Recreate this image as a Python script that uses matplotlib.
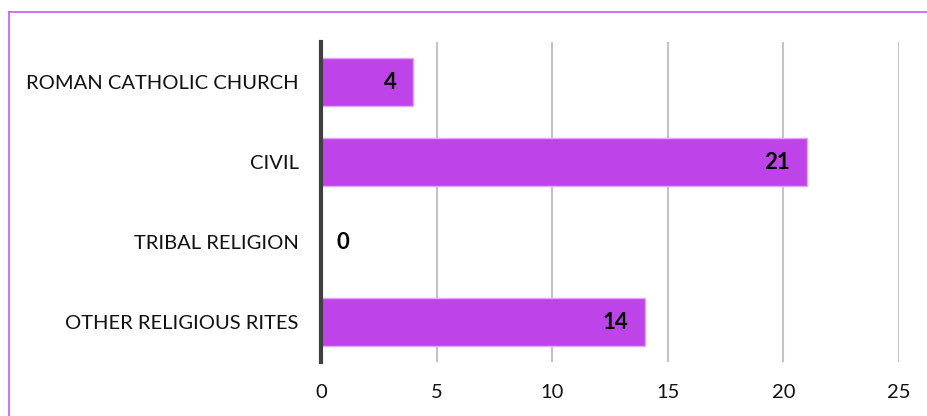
import matplotlib.pyplot as plt
from matplotlib.lines import Line2D

categories = ['ROMAN CATHOLIC CHURCH', 'CIVIL', 'TRIBAL RELIGION', 'OTHER RELIGIOUS RITES']
values = [4, 21, 0, 14]
xticks = [0, 5, 10, 15, 20, 25]

plt.rcParams['font.family'] = ['Lato', 'DejaVu Sans']

fig = plt.figure(figsize=(9.27, 4.16), dpi=100)
ax = fig.add_axes([0.3463, 0.1298, 0.6235, 0.7692])

ypos = list(range(len(categories)))[::-1]
ax.barh(ypos, values, height=0.59, color='#BE44EA', edgecolor='#E2A6F5', linewidth=1, zorder=3)

ax.set_xlim(0, 25)
ax.set_ylim(-0.5, len(categories) - 0.5)
ax.set_xticks(xticks)
ax.set_yticks(ypos)
ax.set_yticklabels(categories)
ax.tick_params(axis='both', length=0, labelsize=14.5, colors='#111111')
ax.tick_params(axis='x', pad=16)
ax.tick_params(axis='y', pad=16)

ax.grid(axis='x', color='#C4C4C4', linewidth=1.5, zorder=0)
for s in ['top', 'right', 'bottom']:
    ax.spines[s].set_visible(False)
ax.spines['left'].set_color('#404040')
ax.spines['left'].set_linewidth(3)
ax.spines['left'].set_zorder(4)

# data labels
for y, v in zip(ypos, values):
    if v > 0:
        ax.annotate(str(v), (v, y), xytext=(-12, 0), textcoords='offset points',
                    ha='right', va='center', fontsize=16, fontweight='bold', zorder=5)
    else:
        ax.annotate(str(v), (v, y), xytext=(11, 0), textcoords='offset points',
                    ha='left', va='center', fontsize=16, fontweight='bold', zorder=5)

# chart border (partial, cropped)
fig.add_artist(Line2D([9 / 927, 1], [1 - 12 / 416, 1 - 12 / 416], color='#C65BF0', linewidth=1.2))
fig.add_artist(Line2D([9 / 927, 9 / 927], [0, 1 - 12 / 416], color='#C65BF0', linewidth=1.2))

fig.savefig('out.png', dpi=100)
